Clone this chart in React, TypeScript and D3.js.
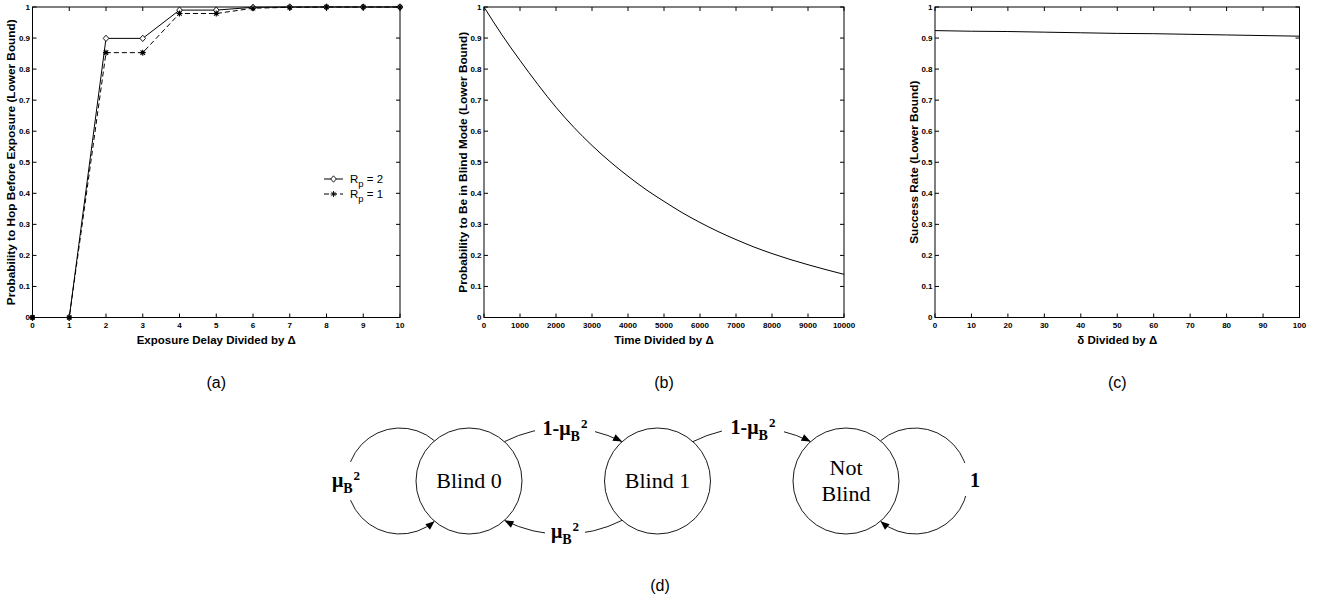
import * as d3 from "d3";

const SANS = "'Liberation Sans', Arial, Helvetica, sans-serif";
const SERIF = "'Liberation Serif', 'Times New Roman', serif";

// shared y axis (probabilities)
const probTicks = [0, 0.1, 0.2, 0.3, 0.4, 0.5, 0.6, 0.7, 0.8, 0.9, 1];
const probLabels = ["0", "0.1", "0.2", "0.3", "0.4", "0.5", "0.6", "0.7", "0.8", "0.9", "1"];

// (a) hop before exposure
const delaySteps = [0, 1, 2, 3, 4, 5, 6, 7, 8, 9, 10];
const hopRp2 = [0, 0, 0.899, 0.899, 0.99, 0.99, 0.999, 1, 1, 1, 1];
const hopRp1 = [0, 0, 0.853, 0.853, 0.979, 0.979, 0.996, 0.999, 1, 1, 1];
const rpLabels = ["2", "1"];

// (b) blind mode over time
const timeTicks = [0, 1000, 2000, 3000, 4000, 5000, 6000, 7000, 8000, 9000, 10000];
const timeSteps = [0, 500, 1000, 1500, 2000, 2500, 3000, 3500, 4000, 4500, 5000, 5500, 6000, 6500, 7000, 7500, 8000, 8500, 9000, 9500, 10000];
const blindProb = [1, 0.91, 0.828, 0.75, 0.677, 0.612, 0.554, 0.502, 0.455, 0.412, 0.374, 0.338, 0.306, 0.277, 0.251, 0.227, 0.206, 0.187, 0.17, 0.154, 0.139];

// (c) success rate
const deltaSteps = [0, 10, 20, 30, 40, 50, 60, 70, 80, 90, 100];
const successRate = [0.924, 0.922, 0.921, 0.919, 0.917, 0.915, 0.914, 0.912, 0.91, 0.908, 0.906];

// (d) state diagram
const states = ["Blind 0", "Blind 1", "Not Blind"];

type Frame = { x0: number; x1: number; y0: number; y1: number };

function Axes({ frame, x, y, xTicks, xTitle, yTitle, tag, children }: any) {
  const { x0, x1, y0, y1 } = frame;
  const tl = 4;
  const cx = (x0 + x1) / 2;
  return (
    <g>
      <rect x={x0} y={y0} width={x1 - x0} height={y1 - y0} fill="none" stroke="#000" strokeWidth={1} />
      {xTicks.map((t: number) => (
        <g key={"x" + t}>
          <line x1={x(t)} x2={x(t)} y1={y1} y2={y1 - tl} stroke="#000" />
          <line x1={x(t)} x2={x(t)} y1={y0} y2={y0 + tl} stroke="#000" />
          <text x={x(t)} y={y1 + 10.5} textAnchor="middle" fontSize={8} fontWeight="bold" fontFamily={SANS}>{t}</text>
        </g>
      ))}
      {probTicks.map((t, i) => (
        <g key={"y" + t}>
          <line x1={x0} x2={x0 + tl} y1={y(t)} y2={y(t)} stroke="#000" />
          <line x1={x1} x2={x1 - tl} y1={y(t)} y2={y(t)} stroke="#000" />
          <text x={x0 - 2.5} y={y(t)} dy="0.35em" textAnchor="end" fontSize={8} fontWeight="bold" fontFamily={SANS}>{probLabels[i]}</text>
        </g>
      ))}
      {children}
      <text x={cx} y={y1 + 26} textAnchor="middle" fontSize={11.5} fontWeight="bold" fontFamily={SANS}>{xTitle}</text>
      <text transform={`translate(${x0 - 17.5},${(y0 + y1) / 2}) rotate(-90)`} textAnchor="middle" fontSize={11.8} fontWeight="bold" fontFamily={SANS}>{yTitle}</text>
      <text x={cx} y={388} textAnchor="middle" fontSize={16} fontFamily={SANS}>{tag}</text>
    </g>
  );
}

const diamond = "M0,-3.2L2.8,0L0,3.2L-2.8,0Z";
const star = "M-3,0L3,0M0,-3L0,3M-2.2,-2.2L2.2,2.2M-2.2,2.2L2.2,-2.2";

function TransLabel({ x, y, prefix }: { x: number; y: number; prefix: string }) {
  return (
    <text x={x} y={y} textAnchor="middle" fontFamily={SERIF} fontWeight="bold" fontSize={20}>
      <tspan>{prefix}μ</tspan>
      <tspan fontSize={14} dy={6}>B</tspan>
      <tspan fontSize={13} dy={-13} dx={1}>2</tspan>
    </text>
  );
}

export default function App() {
  const W = 1329, H = 602;

  // (a)
  const fa: Frame = { x0: 32.5, x1: 400, y0: 7, y1: 317.5 };
  const xa = d3.scaleLinear([0, 10], [fa.x0, fa.x1]);
  const ya = d3.scaleLinear([0, 1], [fa.y1, fa.y0]);
  const lineA = (vals: number[]) => d3.line<number>((_, i) => xa(delaySteps[i]), (d) => ya(d))(vals) || "";

  // (b)
  const fb: Frame = { x0: 484, x1: 844, y0: 7, y1: 317.5 };
  const xb = d3.scaleLinear([0, 10000], [fb.x0, fb.x1]);
  const yb = d3.scaleLinear([0, 1], [fb.y1, fb.y0]);
  const lineB = d3.line<number>((_, i) => xb(timeSteps[i]), (d) => yb(d)).curve(d3.curveMonotoneX)(blindProb) || "";

  // (c)
  const fc: Frame = { x0: 935, x1: 1299.5, y0: 7, y1: 317.5 };
  const xc = d3.scaleLinear([0, 100], [fc.x0, fc.x1]);
  const yc = d3.scaleLinear([0, 1], [fc.y1, fc.y0]);
  const lineC = d3.line<number>((_, i) => xc(deltaSteps[i]), (d) => yc(d))(successRate) || "";

  // (d)
  const sx = d3.scalePoint<string>().domain(states).range([469, 846]);
  const CY = 481, R = 53, ARC = 131, OFF = 69;
  const pt = (s: string, deg: number) => {
    const a = (deg * Math.PI) / 180;
    return [sx(s)! + R * Math.cos(a), CY + R * Math.sin(a)];
  };
  const arc = (a: number[], b: number[]) => `M${a[0]},${a[1]}A${ARC},${ARC} 0 0 1 ${b[0]},${b[1]}`;
  const loop = (s: string, dir: number) => {
    const cx = sx(s)!;
    const ix = cx + (dir * OFF) / 2;
    const iy = Math.sqrt(R * R - (OFF / 2) * (OFF / 2));
    return `M${ix},${CY - iy}A${R},${R} 0 1 ${dir > 0 ? 1 : 0} ${ix},${CY + iy}`;
  };

  return (
    <svg width={W} height={H} style={{ position: "absolute", left: 0, top: 0, background: "#fff" }}>
      <defs>
        <marker id="arr" viewBox="0 0 10 10" refX={10} refY={5} markerWidth={11} markerHeight={9} markerUnits="userSpaceOnUse" orient="auto">
          <path d="M0,1L10,5L0,9Z" fill="#000" />
        </marker>
      </defs>

      <Axes frame={fa} x={xa} y={ya} xTicks={delaySteps} tag="(a)"
        xTitle="Exposure Delay Divided by Δ" yTitle="Probability to Hop Before Exposure (Lower Bound)">
        <path d={lineA(hopRp2)} fill="none" stroke="#000" strokeWidth={1} />
        <path d={lineA(hopRp1)} fill="none" stroke="#000" strokeWidth={1} strokeDasharray="5,3" />
        {hopRp2.map((v, i) => (
          <path key={"d" + i} d={diamond} transform={`translate(${xa(delaySteps[i])},${ya(v)})`} fill="#fff" stroke="#000" strokeWidth={0.9} />
        ))}
        {hopRp1.map((v, i) => (
          <path key={"s" + i} d={star} transform={`translate(${xa(delaySteps[i])},${ya(v)})`} fill="none" stroke="#000" strokeWidth={1.1} />
        ))}
        {rpLabels.map((r, i) => (
          <g key={r} transform={`translate(324,${179 + i * 15})`}>
            <line x1={0} x2={19} y1={0} y2={0} stroke="#000" strokeDasharray={i ? "5,3" : undefined} />
            <path d={i ? star : diamond} transform="translate(9.5,0)" fill={i ? "none" : "#fff"} stroke="#000" strokeWidth={0.9} />
            <text x={26} y={4} fontSize={11.5} fontFamily={SANS}>
              R<tspan fontSize={9.5} dy={4}>p</tspan><tspan dy={-4}>{" = " + r}</tspan>
            </text>
          </g>
        ))}
      </Axes>

      <Axes frame={fb} x={xb} y={yb} xTicks={timeTicks} tag="(b)"
        xTitle="Time Divided by Δ" yTitle="Probability to Be in Blind Mode (Lower Bound)">
        <path d={lineB} fill="none" stroke="#000" strokeWidth={1} />
      </Axes>

      <Axes frame={fc} x={xc} y={yc} xTicks={deltaSteps} tag="(c)"
        xTitle="δ Divided by Δ" yTitle="Success Rate (Lower Bound)">
        <path d={lineC} fill="none" stroke="#000" strokeWidth={1} />
      </Axes>

      {/* (d) state diagram */}
      <g fill="none" stroke="#000" strokeWidth={0.9}>
        <path d={arc(pt(states[0], -48), pt(states[1], -132))} markerEnd="url(#arr)" />
        <path d={arc(pt(states[1], -48), pt(states[2], -132))} markerEnd="url(#arr)" />
        <path d={arc(pt(states[1], 132), pt(states[0], 48))} markerEnd="url(#arr)" />
        <path d={loop(states[0], -1)} markerEnd="url(#arr)" />
        <path d={loop(states[2], 1)} markerEnd="url(#arr)" />
        {states.map((s) => (
          <circle key={s} cx={sx(s)} cy={CY} r={R} fill="#fff" />
        ))}
      </g>
      <g fill="#fff">
        <rect x={535} y={414} width={60} height={32} />
        <rect x={722} y={414} width={62} height={32} />
        <rect x={545} y={524} width={40} height={28} />
        <rect x={328} y={462} width={37} height={38} />
        <rect x={962} y={463} width={22} height={33} />
      </g>
      <TransLabel x={565} y={435} prefix="1-" />
      <TransLabel x={753} y={434} prefix="1-" />
      <TransLabel x={565} y={538} prefix="" />
      <TransLabel x={346} y={487} prefix="" />
      <text x={975} y={487} textAnchor="middle" fontFamily={SERIF} fontWeight="bold" fontSize={20}>1</text>
      <text x={sx(states[0])} y={CY + 7} textAnchor="middle" fontFamily={SERIF} fontSize={22}>Blind 0</text>
      <text x={sx(states[1])} y={CY + 7} textAnchor="middle" fontFamily={SERIF} fontSize={22}>Blind 1</text>
      <text x={sx(states[2])} y={CY - 6} textAnchor="middle" fontFamily={SERIF} fontSize={22}>Not</text>
      <text x={sx(states[2])} y={CY + 20} textAnchor="middle" fontFamily={SERIF} fontSize={22}>Blind</text>
      <text x={660} y={591} textAnchor="middle" fontSize={16} fontFamily={SANS}>(d)</text>
    </svg>
  );
}
